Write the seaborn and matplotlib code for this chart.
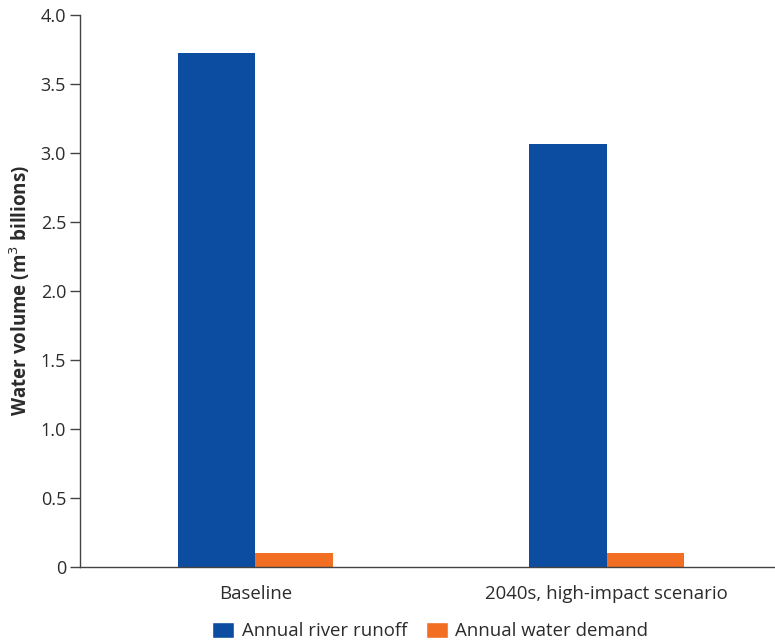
import matplotlib.pyplot as plt
import seaborn as sns
import pandas as pd
from matplotlib.patches import Patch

categories = ["Baseline", "2040s, high-impact scenario"]
series = ["Annual river runoff", "Annual water demand"]
runoff = [3.725, 3.065]
demand = [0.10, 0.10]
y_ticks = [0, 0.5, 1.0, 1.5, 2.0, 2.5, 3.0, 3.5, 4.0]
y_tick_labels = ["0", "0.5", "1.0", "1.5", "2.0", "2.5", "3.0", "3.5", "4.0"]

colors = ["#0D4DA1", "#F26E22"]
text_color = "#2b2b2b"

df = pd.DataFrame({
    "category": categories * 2,
    "series": [series[0]] * 2 + [series[1]] * 2,
    "value": runoff + demand,
})

sns.set_style("white")
plt.rcParams["font.family"] = ["Open Sans", "DejaVu Sans"]

fig = plt.figure(figsize=(7.75, 6.43), dpi=100)
ax = fig.add_axes([0.1032, 0.1182, 0.8968, 0.8585])

sns.barplot(data=df, x="category", y="value", hue="series", order=categories,
            hue_order=series, palette=colors, width=0.444, saturation=1,
            linewidth=0, edgecolor="none", ax=ax, legend=False)

ax.set_ylim(0, 4.0)
ax.set_xlim(-0.5, 1.48)
ax.set_yticks(y_ticks)
ax.set_yticklabels(y_tick_labels, fontsize=13, color=text_color)
ax.set_xticks(range(len(categories)))
ax.set_xticklabels(categories, fontsize=13.4, color=text_color)
ax.set_xticks([-0.5, 0.5], minor=True)
ax.tick_params(axis="x", which="major", length=0, pad=13)
ax.tick_params(axis="x", which="minor", length=7, width=1, color="#444444", direction="out")
ax.tick_params(axis="y", length=7, width=1, color="#444444", direction="out", pad=3, left=True)
ax.set_xlabel("")
ax.set_ylabel("Water volume (m$^3$ billions)", fontsize=13.5, fontweight="bold",
              color=text_color, labelpad=6)

for side in ["top", "right"]:
    ax.spines[side].set_visible(False)
for side in ["left", "bottom"]:
    ax.spines[side].set_color("#444444")
    ax.spines[side].set_linewidth(1)

handles = [Patch(facecolor=c, label=s) for c, s in zip(colors, series)]
fig.legend(handles=handles, loc="lower center", bbox_to_anchor=(0.555, -0.022), ncol=2,
           frameon=False, fontsize=13.4, handlelength=1.2, handleheight=1.0,
           handletextpad=0.4, columnspacing=1.0, labelcolor=text_color)

fig.savefig("out.png", dpi=100)
